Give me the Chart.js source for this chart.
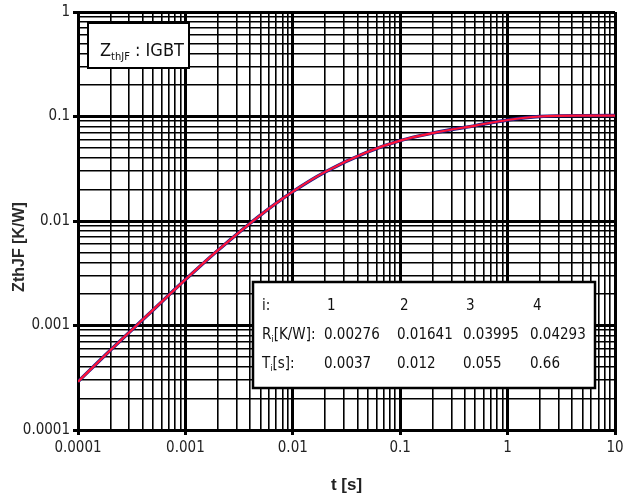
<!DOCTYPE html>
<html>
<head>
<meta charset="utf-8">
<script src="https://cdn.jsdelivr.net/npm/chart.js@4/dist/chart.umd.min.js"></script>
<style>
  html, body { margin: 0; padding: 0; background: #fff; }
  #wrap { width: 629px; height: 500px; position: relative; }
</style>
</head>
<body>
<div id="wrap"><canvas id="zth"></canvas></div>
<script>
// values
const tValues = [0.0001, 0.0002, 0.0005, 0.001, 0.002, 0.005, 0.01, 0.02, 0.05, 0.1, 0.2, 0.5, 1, 2, 5, 10];
const zthValues = [0.00029, 0.00058, 0.00141, 0.00275, 0.00523, 0.0114, 0.0191, 0.0295, 0.0459, 0.0587, 0.0693, 0.0819, 0.0926, 0.1, 0.102, 0.1021];

const xTickLabels = ["0.0001", "0.001", "0.01", "0.1", "1", "10"];
const yTickLabels = ["0.0001", "0.001", "0.01", "0.1", "1"];

// table in the lower box
const tableIndex = ["1", "2", "3", "4"];
const tableR = ["0.00276", "0.01641", "0.03995", "0.04293"];
const tableT = ["0.0037", "0.012", "0.055", "0.66"];

const narrow = "'DejaVu Sans Condensed', 'Liberation Sans Narrow', 'Liberation Sans', sans-serif";

function decadeTicks(labels) {
  const ticks = [];
  const first = Math.round(Math.log10(parseFloat(labels[0])));
  const last = Math.round(Math.log10(parseFloat(labels[labels.length - 1])));
  for (let e = first; e <= last; e++) {
    for (let s = 1; s <= 9; s++) {
      if (e === last && s > 1) break;
      const v = parseFloat(s + "e" + e);
      ticks.push({ value: v, major: s === 1 });
    }
  }
  return ticks;
}

function labelFor(labels) {
  return (value) => {
    const e = Math.log10(value);
    if (Math.abs(e - Math.round(e)) > 1e-9) return "";
    return labels.find((l) => Math.abs(parseFloat(l) - value) < value * 1e-6) || "";
  };
}

const gridWidth = (ctx) => (ctx.tick && ctx.tick.major ? 3 : 1.6);
const tickColor = (ctx) => (ctx.tick && ctx.tick.major ? "#000" : "rgba(0,0,0,0)");

const boxes = {
  id: "boxes",
  afterDraw(chart) {
    const c = chart.ctx;
    c.save();
    // legend box
    c.fillStyle = "#fff";
    c.fillRect(88, 23, 101, 45);
    c.strokeStyle = "#000";
    c.lineWidth = 2;
    c.strokeRect(88, 23, 101, 45);
    c.fillStyle = "#111";
    c.textBaseline = "alphabetic";
    c.font = "18px " + narrow;
    c.fillText("Z", 100, 56);
    let x = 100 + c.measureText("Z").width;
    c.font = "11px " + narrow;
    c.fillText("thJF", x, 60);
    x += c.measureText("thJF").width;
    c.font = "18px " + narrow;
    c.fillText(" : IGBT", x, 56);

    // table box
    c.fillStyle = "#fff";
    c.fillRect(253, 282, 342, 106);
    c.lineWidth = 2.5;
    c.strokeRect(253, 282, 342, 106);
    c.fillStyle = "#111";
    const cols = [324, 397, 463, 530];
    const rows = [310, 339, 368];
    c.font = "15px " + narrow;
    c.fillText("i:", 262, rows[0]);
    // R_i[K/W]:
    c.fillText("R", 262, rows[1]);
    let rx = 262 + c.measureText("R").width;
    c.font = "9px " + narrow;
    c.fillText("i", rx, rows[1] + 3);
    rx += c.measureText("i").width;
    c.font = "15px " + narrow;
    c.fillText("[K/W]:", rx, rows[1]);
    // T_i[s]:
    c.fillText("T", 262, rows[2]);
    let tx = 262 + c.measureText("T").width;
    c.font = "9px " + narrow;
    c.fillText("i", tx, rows[2] + 3);
    tx += c.measureText("i").width;
    c.font = "15px " + narrow;
    c.fillText("[s]:", tx, rows[2]);
    tableIndex.forEach((v, i) => c.fillText(v, cols[i] + 3, rows[0]));
    tableR.forEach((v, i) => c.fillText(v, cols[i], rows[1]));
    tableT.forEach((v, i) => c.fillText(v, cols[i], rows[2]));

    // y axis title
    c.translate(20, 247);
    c.rotate(-Math.PI / 2);
    c.textAlign = "center";
    c.textBaseline = "middle";
    c.fillStyle = "#2a2a2a";
    c.font = "bold 16px 'Liberation Sans', Arial, sans-serif";
    c.fillText("ZthJF [K/W]", 0, 0);
    c.restore();
  },
};

const makePoints = () => tValues.map((t, i) => ({ x: t, y: zthValues[i] }));

new Chart(document.getElementById("zth"), {
  type: "line",
  data: {
    datasets: [
      {
        data: makePoints(),
        borderColor: "#ff1438",
        borderWidth: 2.2,
        pointRadius: 0,
        order: 0,
        cubicInterpolationMode: "monotone",
      },
      {
        data: makePoints(),
        borderColor: "#1c1c8c",
        borderWidth: 3.4,
        pointRadius: 0,
        order: 1,
        cubicInterpolationMode: "monotone",
      },
    ],
  },
  options: {
    responsive: true,
    maintainAspectRatio: false,
    animation: false,
    layout: { padding: { top: 10, right: 14, left: 0, bottom: 0 } },
    plugins: { legend: { display: false }, tooltip: { enabled: false } },
    scales: {
      x: {
        type: "logarithmic",
        min: 0.0001,
        max: 10,
        afterBuildTicks: (scale) => (scale.ticks = decadeTicks(xTickLabels)),
        afterFit: (scale) => (scale.height = 70),
        grid: { color: "#000", lineWidth: gridWidth, tickColor: tickColor, tickLength: 5 },
        border: { color: "#000", width: 3 },
        ticks: {
          autoSkip: false,
          maxRotation: 0,
          color: "#222",
          font: { family: narrow, size: 15 },
          padding: 4,
          callback: labelFor(xTickLabels),
        },
        title: {
          display: true,
          text: "t [s]",
          color: "#222",
          font: { family: "'Liberation Sans', Arial, sans-serif", size: 17, weight: "bold" },
          padding: { top: 4 },
        },
      },
      y: {
        type: "logarithmic",
        min: 0.0001,
        max: 1,
        afterBuildTicks: (scale) => (scale.ticks = decadeTicks(yTickLabels)),
        afterFit: (scale) => (scale.width = 78),
        grid: { color: "#000", lineWidth: gridWidth, tickColor: tickColor, tickLength: 5 },
        border: { color: "#000", width: 3 },
        ticks: {
          autoSkip: false,
          color: "#222",
          font: { family: narrow, size: 15 },
          padding: 3,
          callback: labelFor(yTickLabels),
        },
      },
    },
  },
  plugins: [boxes],
});
</script>
</body>
</html>
